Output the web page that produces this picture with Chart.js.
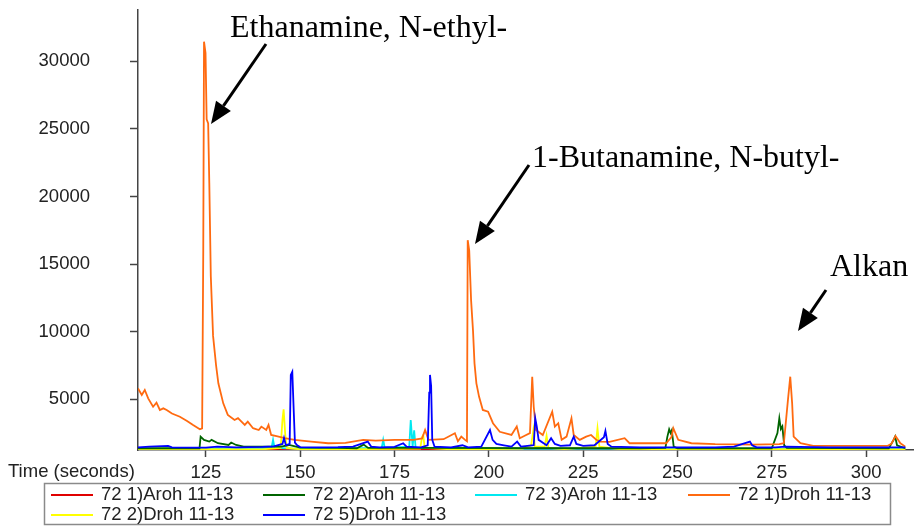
<!DOCTYPE html>
<html>
<head>
<meta charset="utf-8">
<script src="https://cdn.jsdelivr.net/npm/chart.js@4.4.1/dist/chart.umd.min.js"></script>
<style>
html,body{margin:0;padding:0;background:#fff;}
#wrap{width:914px;height:526px;position:relative;}
</style>
</head>
<body>
<div id="wrap"><canvas id="c" width="914" height="526"></canvas></div>
<script>
// ---- data (time in seconds, intensity) ----
const seriesLabels = ["72 1)Aroh 11-13","72 2)Aroh 11-13","72 3)Aroh 11-13","72 1)Droh 11-13","72 2)Droh 11-13","72 5)Droh 11-13"];
const xTickValues = [125,150,175,200,225,250,275,300];
const yTickValues = [5000,10000,15000,20000,25000,30000];

const aroh1T = [107.0,144.0,144.5,145.0,166.7,167.5,168.5,200.0,250.0,310.4];
const aroh1V = [1280,1290,1400,1290,1300,1350,1300,1290,1290,1290];

const aroh2T = [107.0,115.0,123.3,123.6,124.5,125.9,126.5,128.2,131.0,131.7,133.0,135.0,140.0,145.0,147.0,150.0,160.0,165.0,166.8,168.0,178.0,240.0,246.8,247.3,247.8,248.2,248.5,249.0,250.0,275.0,276.5,277.0,277.4,277.8,278.3,279.0,306.0,307.3,307.7,308.2,310.4];
const aroh2V = [1380,1380,1380,2240,2000,1870,2000,1750,1620,1800,1620,1500,1500,1500,1620,1420,1400,1380,1650,1400,1400,1380,1400,2200,2780,2500,2700,1500,1380,1380,2500,3600,2800,3000,1600,1400,1380,2000,2240,1600,1380];

const aroh3T = [107.0,142.4,142.8,143.2,150.0,171.6,172.0,172.4,178.9,179.3,179.8,180.2,180.6,200.0,240.0,310.4];
const aroh3V = [1330,1400,2000,1400,1330,1400,2000,1400,1500,3470,1500,2700,1400,1330,1330,1330];

const droh1T = [107.0,108.0,108.8,109.7,111.0,111.9,112.8,113.7,114.6,116.0,118.1,120.0,121.6,123.4,124.0,124.3,124.5,124.9,125.2,125.6,125.9,126.3,126.9,127.7,128.3,129.6,130.8,132.6,133.5,135.3,136.1,137.5,139.0,139.7,141.0,141.6,142.3,144.0,145.9,148.5,152.9,157.4,162.0,166.7,170.0,175.0,180.0,182.3,183.1,184.0,188.0,191.0,191.8,192.7,193.7,194.2,194.4,194.8,195.3,195.8,196.2,196.7,197.4,198.4,199.8,201.1,202.9,206.0,207.4,208.2,209.5,210.9,211.5,211.9,212.5,214.3,216.8,217.5,218.4,219.3,220.6,221.9,222.5,224.1,225.8,227.1,228.5,229.4,232.0,236.0,237.3,245.0,247.0,248.4,248.9,250.2,253.7,260.0,270.0,277.0,278.2,279.3,279.9,280.4,280.8,282.6,286.0,300.0,305.6,306.7,307.8,309.1,310.4];
const droh1V = [5810,5320,5690,5070,4450,4750,4210,4330,4210,3950,3710,3400,3100,2780,2850,16000,31450,30600,25700,25400,21000,14100,9690,7500,6180,4700,3850,3470,3600,3100,3340,2860,2730,2980,2730,3100,2360,2250,2120,2000,1870,1750,1780,2000,1950,2000,2000,2100,2730,2000,2050,2490,1900,2240,2000,1900,16770,16000,12300,10100,7660,6180,5200,4210,4080,3230,2600,2360,2980,2120,2300,2500,6670,4450,2730,2360,4080,2980,3230,2000,2240,3600,2360,2000,2240,2360,2000,1870,1850,2120,1750,1750,1750,2200,2860,2000,1750,1680,1650,1680,1750,5000,6670,4700,2240,1750,1550,1550,1550,1700,2290,1750,1500];

const droh2T = [107.0,120.0,140.0,144.8,145.3,145.6,146.0,146.4,150.0,160.0,181.8,182.3,182.6,183.0,190.0,200.0,209.0,211.2,211.8,212.2,214.8,215.3,215.8,220.0,228.3,228.8,229.3,235.0,250.0,270.0,290.0,310.4];
const droh2V = [1300,1320,1300,1400,3500,4260,2500,1400,1300,1300,1350,2200,2360,1400,1300,1320,1350,1600,2730,1500,1500,2300,1400,1320,1500,2860,1500,1300,1300,1320,1300,1300];

const droh5T = [107.0,110.0,115.0,116.0,125.0,128.0,133.0,140.0,143.0,145.3,145.7,146.2,147.2,147.5,147.9,148.3,148.6,149.2,150.0,155.0,160.0,164.0,167.9,168.8,171.0,175.0,177.3,178.2,182.0,183.8,184.2,184.4,184.7,185.0,185.6,190.0,193.0,194.5,198.0,200.3,201.0,202.0,204.0,206.0,207.5,208.5,211.9,212.3,212.7,213.2,215.3,216.5,217.5,219.0,221.5,222.5,223.2,225.0,228.0,230.5,230.9,231.5,232.5,240.0,250.0,260.0,265.0,269.2,269.8,271.0,276.0,278.6,290.0,300.0,310.4];
const droh5V = [1450,1500,1550,1450,1430,1500,1450,1480,1520,1700,2140,1600,1700,6800,7040,4000,1800,1600,1470,1450,1460,1500,1870,1500,1450,1480,1750,1500,1450,1600,5500,6800,6000,2000,1500,1450,1600,1450,1500,2730,2000,1700,1600,1500,1870,1500,1600,3600,3000,2000,1600,2120,1700,1550,1600,2240,1700,1550,1600,2200,2660,1700,1500,1450,1450,1450,1500,1870,1600,1450,1450,1500,1450,1450,1450];

const seriesTimes = [aroh1T, aroh2T, aroh3T, droh1T, droh2T, droh5T];
const seriesValues = [aroh1V, aroh2V, aroh3V, droh1V, droh2V, droh5V];
const seriesColors = ["#e00000","#006400","#00e8f0","#ff6a10","#ffff00","#0000ff"];
const seriesOrder = [6,3,5,2,4,1];

const FONT = "'Liberation Sans', Arial, sans-serif";
const SERIF = "'Liberation Serif', 'Times New Roman', serif";

const datasets = seriesLabels.map((lab, i) => ({
  label: lab,
  data: seriesTimes[i].map((t, j) => ({x: t, y: seriesValues[i][j]})),
  borderColor: seriesColors[i],
  backgroundColor: seriesColors[i],
  borderWidth: 1.8,
  pointRadius: 0,
  tension: 0,
  fill: false,
  order: seriesOrder[i]
}));

function arrow(ctx, x1, y1, x2, y2) {
  const ang = Math.atan2(y2 - y1, x2 - x1);
  const hl = 22, hw = 9;
  const bx = x2 - hl * Math.cos(ang), by = y2 - hl * Math.sin(ang);
  ctx.save();
  ctx.strokeStyle = "#000"; ctx.fillStyle = "#000"; ctx.lineWidth = 3;
  ctx.beginPath(); ctx.moveTo(x1, y1); ctx.lineTo(bx, by); ctx.stroke();
  ctx.beginPath();
  ctx.moveTo(x2, y2);
  ctx.lineTo(bx + hw * Math.sin(ang), by - hw * Math.cos(ang));
  ctx.lineTo(bx - hw * Math.sin(ang), by + hw * Math.cos(ang));
  ctx.closePath(); ctx.fill();
  ctx.restore();
}

const decor = {
  id: 'decor',
  afterDraw(chart) {
    const ctx = chart.ctx;
    ctx.save();
    ctx.fillStyle = "#000";
    ctx.font = "32px " + SERIF;
    ctx.textAlign = "left"; ctx.textBaseline = "alphabetic";
    ctx.fillText("Ethanamine, N-ethyl-", 230, 37);
    ctx.fillText("1-Butanamine, N-butyl-", 532, 167);
    ctx.fillText("Alkan", 830, 276);
    arrow(ctx, 266, 44, 211, 124);
    arrow(ctx, 529, 165, 475, 244);
    arrow(ctx, 826, 290, 798, 331);
    ctx.font = "18.5px " + FONT;
    ctx.fillStyle = "#222";
    ctx.textBaseline = "middle";
    ctx.fillText("Time (seconds)", 8, 472);
    ctx.strokeStyle = "#8a8a8a"; ctx.lineWidth = 1.5;
    ctx.strokeRect(44.5, 483.5, 846, 41);
    const cols = [51, 263, 475, 688];
    const rows = [495, 515];
    seriesLabels.forEach((lab, i) => {
      const cx = cols[i % 4], cy = rows[Math.floor(i / 4)];
      ctx.strokeStyle = seriesColors[i]; ctx.lineWidth = 2;
      ctx.beginPath(); ctx.moveTo(cx, cy); ctx.lineTo(cx + 42, cy); ctx.stroke();
      ctx.fillStyle = "#222";
      ctx.fillText(lab, cx + 50, cy);
    });
    ctx.restore();
  }
};

new Chart(document.getElementById('c'), {
  type: 'line',
  data: { datasets },
  plugins: [decor],
  options: {
    responsive: false,
    animation: false,
    events: [],
    layout: { padding: { top: 10, right: 0, bottom: 0, left: 0 } },
    plugins: { legend: { display: false }, tooltip: { enabled: false } },
    scales: {
      x: {
        type: 'linear',
        min: 107.0, max: 312.7,
        afterFit(scale) { scale.height = 76; scale.paddingLeft = 0; scale.paddingRight = 0; },
        afterBuildTicks(scale) { scale.ticks = xTickValues.map(v => ({value: v})); },
        grid: { drawOnChartArea: false, tickLength: 7, color: '#444', tickWidth: 1.5 },
        border: { display: true, color: '#444', width: 1.5 },
        ticks: { padding: 5, color: '#222', font: { family: FONT, size: 18.5 }, maxRotation: 0, callback: v => String(v) }
      },
      y: {
        type: 'linear',
        min: 1250, max: 33790,
        afterFit(scale) { scale.width = 138; scale.paddingTop = 0; scale.paddingBottom = 0; },
        afterBuildTicks(scale) { scale.ticks = yTickValues.map(v => ({value: v})); },
        grid: { drawOnChartArea: false, tickLength: 8, color: '#444', tickWidth: 1.5 },
        border: { display: true, color: '#444', width: 1.5 },
        ticks: { padding: 40, color: '#222', font: { family: FONT, size: 18.5 }, callback: v => String(v) }
      }
    }
  }
});
</script>
</body>
</html>
